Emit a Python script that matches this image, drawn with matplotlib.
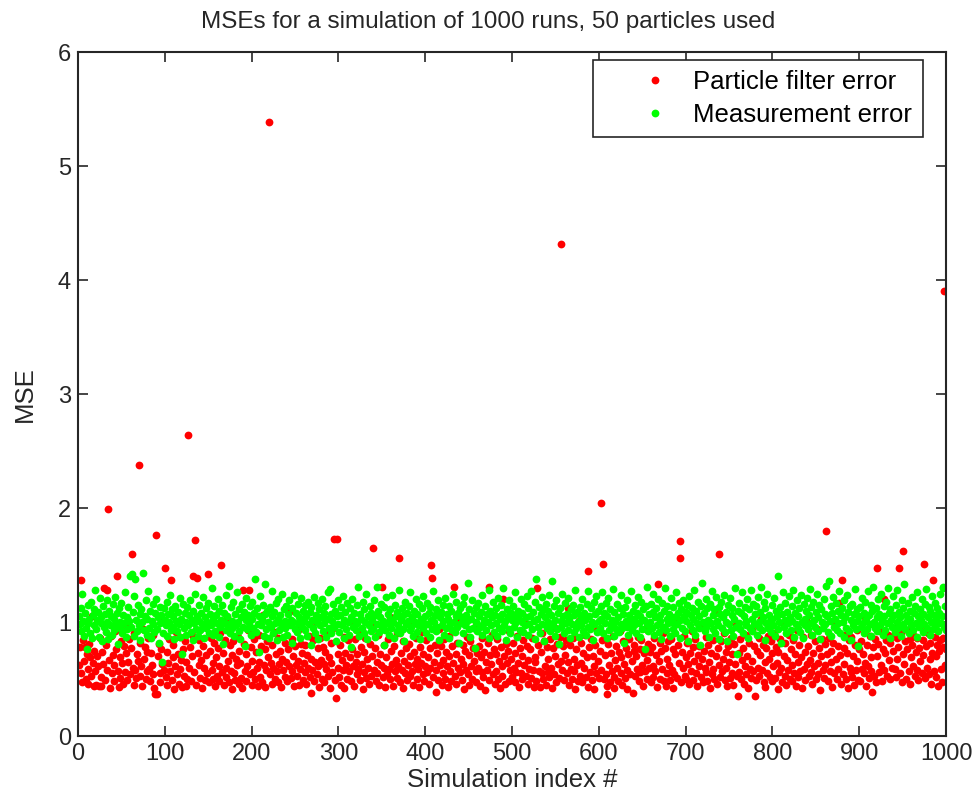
import numpy as np
from matplotlib import pyplot as plt

# MSE of the particle filter, one value per simulation run
pf_error = [
    0.62, 0.78, 1.37, 0.55, 0.47, 0.84, 0.66, 0.78, 0.50, 0.72, 0.59, 0.46, 0.81, 0.69, 0.53, 1.05, 0.64, 0.44, 0.75, 0.57,
    0.45, 0.70, 0.61, 0.44, 0.86, 0.52, 0.44, 0.74, 0.63, 1.30, 0.49, 0.80, 1.28, 0.58, 1.99, 0.67, 0.42, 0.88, 0.55, 0.71,
    0.48, 0.62, 0.92, 0.76, 1.40, 0.57, 0.43, 0.69, 0.51, 0.83, 0.64, 0.46, 0.79, 0.56, 0.73, 0.97, 0.49, 0.65, 0.85, 0.54,
    0.77, 1.60, 0.60, 0.45, 0.90, 0.58, 0.51, 0.72, 0.66, 2.38, 0.53, 0.82, 0.61, 0.44, 0.94, 0.68, 0.78, 0.50, 0.57, 0.74,
    0.86, 0.59, 0.48, 0.73, 0.62, 0.89, 0.54, 0.42, 0.37, 1.76, 0.37, 0.70, 0.81, 0.55, 0.47, 0.76, 0.63, 1.02, 0.58, 1.47,
    0.52, 0.74, 0.45, 0.64, 0.85, 0.57, 1.37, 0.49, 0.69, 0.80, 0.41, 0.61, 0.91, 0.54, 0.72, 0.46, 0.87, 0.59, 0.67, 0.43,
    0.76, 0.53, 0.83, 0.44, 0.65, 0.50, 2.64, 0.60, 0.78, 0.48, 0.70, 0.88, 1.40, 0.56, 1.72, 0.45, 1.39, 0.73, 0.62, 0.84,
    0.51, 0.67, 0.42, 0.79, 0.60, 0.49, 0.96, 0.71, 0.55, 1.42, 0.47, 0.75, 0.86, 0.58, 0.50, 0.64, 0.82, 0.44, 0.69, 0.53,
    0.77, 0.61, 0.48, 0.90, 1.50, 0.56, 0.73, 0.45, 0.84, 0.60, 0.52, 1.04, 0.66, 0.47, 0.80, 0.57, 0.71, 0.41, 0.83, 0.55,
    0.49, 0.68, 0.62, 0.87, 0.46, 0.75, 0.64, 0.51, 0.42, 1.28, 0.81, 0.57, 0.48, 0.72, 0.61, 0.93, 1.28, 0.54, 0.78, 0.45,
    0.66, 0.56, 0.85, 0.50, 0.74, 0.60, 0.44, 0.89, 0.65, 0.52, 0.79, 0.47, 1.06, 0.62, 0.76, 0.43, 0.58, 0.83, 0.69, 5.39,
    0.54, 0.64, 0.46, 0.80, 0.60, 0.91, 0.50, 0.72, 0.57, 0.47, 0.86, 0.63, 0.75, 0.43, 0.68, 0.58, 0.98, 0.52, 0.82, 0.65,
    0.48, 0.76, 0.61, 1.10, 0.51, 0.85, 0.57, 0.70, 0.44, 0.79, 0.62, 0.53, 0.93, 0.66, 0.45, 0.59, 0.81, 0.73, 0.49, 0.64,
    0.80, 0.56, 0.46, 0.71, 0.60, 0.88, 0.52, 0.38, 0.68, 0.58, 0.84, 0.48, 0.65, 1.00, 0.54, 0.77, 0.61, 0.43, 0.86, 0.67,
    0.50, 0.78, 0.63, 0.47, 0.74, 0.59, 0.90, 0.53, 0.69, 0.42, 0.82, 0.64, 0.56, 0.95, 1.73, 0.49, 0.33, 1.73, 0.72, 0.60,
    0.52, 0.80, 0.45, 0.67, 0.58, 0.87, 0.42, 0.73, 0.62, 0.50, 0.84, 0.57, 0.69, 1.01, 0.48, 0.76, 0.61, 0.44, 0.85, 0.65,
    0.54, 0.72, 0.59, 0.92, 0.49, 0.78, 0.63, 0.41, 0.74, 0.56, 0.86, 0.51, 0.68, 0.60, 0.46, 0.81, 0.97, 0.53, 0.70, 1.65,
    0.58, 0.77, 0.48, 0.65, 0.55, 0.89, 0.45, 0.72, 0.62, 1.31, 0.52, 0.80, 0.60, 0.43, 0.69, 0.54, 0.85, 0.59, 1.04, 0.50,
    0.75, 0.63, 0.44, 0.79, 0.57, 0.67, 0.51, 0.90, 0.61, 1.56, 0.47, 0.73, 0.58, 0.83, 0.42, 0.66, 0.55, 0.77, 0.49, 0.62,
    0.81, 0.53, 0.70, 0.98, 0.57, 0.45, 0.74, 0.63, 0.86, 0.50, 0.68, 0.59, 0.43, 0.78, 0.64, 0.91, 0.54, 0.72, 0.48, 0.61,
    0.84, 0.56, 0.69, 0.46, 0.77, 0.60, 1.50, 1.39, 0.52, 0.65, 0.80, 0.39, 0.58, 0.73, 0.49, 0.94, 0.62, 0.79, 0.45, 0.67,
    0.55, 0.85, 0.50, 0.74, 0.61, 0.43, 0.70, 0.88, 0.57, 0.48, 0.79, 0.64, 1.31, 0.53, 0.72, 0.46, 0.82, 0.60, 1.03, 0.56,
    0.68, 0.49, 0.80, 0.63, 0.41, 0.75, 0.58, 0.87, 0.54, 0.71, 0.45, 0.83, 0.61, 0.50, 0.77, 0.66, 0.96, 0.57, 0.47, 0.73,
    0.60, 0.79, 0.44, 0.69, 0.56, 0.86, 0.52, 0.74, 0.40, 0.65, 0.58, 0.82, 1.31, 0.49, 0.71, 0.63, 0.89, 0.54, 0.76, 0.46,
    0.72, 0.57, 0.85, 0.50, 0.66, 0.42, 0.78, 0.61, 0.53, 1.20, 0.70, 0.46, 0.81, 0.64, 0.75, 0.48, 0.92, 0.58, 0.68, 0.52,
    0.82, 0.60, 0.47, 0.73, 0.56, 0.88, 0.64, 0.43, 0.77, 0.55, 0.70, 0.50, 0.84, 0.62, 0.99, 0.53, 0.79, 0.46, 0.67, 0.59,
    0.76, 0.51, 0.86, 0.58, 0.43, 0.69, 0.65, 0.48, 1.30, 0.80, 0.57, 0.43, 0.74, 0.55, 0.90, 0.50, 0.83, 0.61, 0.45, 0.78,
    0.56, 0.68, 0.52, 0.85, 0.60, 0.42, 0.77, 0.54, 0.95, 0.70, 0.47, 0.81, 0.63, 0.51, 0.87, 0.66, 4.32, 0.58, 0.79, 0.49,
    0.71, 0.84, 0.55, 1.12, 0.65, 0.45, 0.80, 0.59, 0.50, 0.86, 0.68, 0.57, 0.41, 0.76, 0.62, 0.48, 1.01, 0.53, 0.82, 0.64,
    0.47, 0.73, 0.60, 0.89, 0.52, 0.69, 0.43, 1.45, 0.78, 0.56, 0.85, 0.49, 0.70, 0.61, 0.41, 0.80, 0.55, 0.93, 0.66, 0.51,
    0.75, 0.58, 2.04, 0.84, 1.51, 0.50, 0.71, 0.54, 0.44, 0.37, 0.81, 0.62, 0.47, 0.73, 0.57, 0.88, 0.52, 0.42, 0.67, 0.79,
    0.60, 0.48, 0.74, 0.92, 0.55, 0.69, 0.45, 0.83, 0.63, 0.51, 0.77, 0.58, 0.41, 0.72, 0.85, 0.54, 0.98, 0.66, 0.38, 0.75,
    0.80, 0.53, 0.70, 0.59, 0.87, 0.48, 0.76, 0.56, 0.84, 0.62, 0.44, 0.73, 0.57, 0.94, 0.67, 0.50, 0.81, 0.60, 0.74, 0.47,
    0.78, 0.61, 0.52, 0.86, 0.57, 0.71, 0.43, 1.33, 0.66, 0.82, 0.50, 0.75, 0.59, 0.90, 0.48, 0.77, 0.44, 0.68, 0.55, 0.83,
    0.62, 0.49, 0.85, 0.58, 0.42, 0.76, 0.54, 0.72, 1.02, 0.51, 0.80, 0.64, 1.71, 1.56, 0.47, 0.74, 0.60, 0.88, 0.53, 0.69,
    0.50, 0.82, 0.63, 0.46, 0.73, 0.57, 0.92, 0.78, 0.49, 0.66, 0.85, 0.55, 0.44, 0.71, 0.61, 0.79, 0.96, 0.52, 0.68, 0.47,
    0.75, 0.60, 0.87, 0.56, 0.48, 0.80, 0.65, 0.42, 0.73, 0.54, 0.84, 0.59, 0.50, 1.08, 0.70, 0.46, 0.77, 1.60, 0.62, 0.52,
    0.83, 0.57, 0.68, 0.90, 0.49, 0.74, 0.60, 0.44, 0.79, 0.65, 0.51, 0.86, 0.55, 0.72, 0.45, 0.81, 0.63, 0.97, 0.53, 0.35,
    0.73, 0.56, 0.85, 0.50, 0.67, 0.77, 0.46, 0.61, 0.89, 0.54, 0.70, 0.42, 0.82, 0.59, 0.51, 0.93, 0.66, 0.57, 0.79, 0.35,
    0.49, 0.75, 0.60, 0.86, 0.53, 0.71, 1.03, 0.58, 0.80, 0.47, 0.65, 0.43, 0.77, 0.55, 0.88, 0.68, 0.52, 0.83, 0.48, 0.73,
    0.61, 0.90, 0.51, 0.78, 0.64, 0.41, 0.74, 0.56, 0.85, 0.60, 0.47, 0.99, 0.70, 0.53, 0.82, 0.45, 0.67, 0.58, 0.89, 0.50,
    0.76, 0.62, 0.48, 0.84, 0.55, 0.72, 0.44, 0.93, 0.65, 0.52, 0.80, 0.57, 0.69, 0.42, 0.87, 0.59, 0.74, 0.49, 1.03, 0.63,
    0.79, 0.53, 0.67, 0.89, 0.56, 0.46, 0.73, 0.61, 0.83, 0.50, 0.94, 0.64, 0.54, 0.77, 0.40, 0.70, 0.85, 0.58, 0.51, 0.81,
    0.62, 1.80, 0.72, 0.48, 0.86, 0.57, 0.75, 0.65, 0.43, 0.82, 0.55, 0.98, 0.68, 0.50, 0.79, 0.59, 1.17, 0.71, 0.46, 1.37,
    0.54, 0.77, 0.63, 0.89, 0.50, 0.73, 0.42, 0.84, 0.60, 0.56, 0.87, 0.52, 0.70, 0.45, 0.80, 0.58, 0.93, 0.66, 0.49, 0.76,
    0.48, 0.83, 0.59, 0.72, 0.55, 1.05, 0.64, 0.44, 0.80, 0.61, 0.51, 0.88, 0.69, 0.57, 0.39, 0.78, 0.53, 0.85, 0.47, 1.47,
    0.70, 0.81, 0.56, 0.92, 0.62, 0.48, 0.76, 0.58, 1.20, 0.73, 0.84, 0.53, 0.89, 0.67, 0.50, 0.82, 0.87, 0.60, 0.75, 0.95,
    0.59, 0.52, 0.86, 0.68, 0.78, 1.47, 0.55, 0.90, 0.47, 1.62, 0.72, 0.63, 0.83, 0.50, 0.76, 0.93, 0.57, 0.85, 0.46, 0.69,
    0.80, 0.61, 0.88, 0.53, 0.74, 0.58, 0.86, 0.49, 0.77, 0.66, 0.97, 0.55, 0.71, 0.84, 1.51, 0.51, 0.79, 0.60, 0.90, 0.54,
    0.68, 0.82, 0.46, 0.73, 1.37, 0.57, 0.87, 0.52, 0.70, 0.80, 0.44, 0.75, 0.84, 0.59, 0.47, 0.78, 0.86, 3.90, 0.62, 0.76,
]

# MSE of the raw measurements, one value per simulation run
meas_error = [
    1.05, 0.98, 1.12, 0.92, 1.25, 1.01, 0.88, 1.08, 0.95, 0.76, 1.15, 0.99, 1.03, 0.90, 1.18, 0.86, 1.06, 0.97, 1.11, 1.28,
    0.94, 1.02, 1.09, 0.87, 1.21, 0.99, 1.04, 0.83, 1.14, 0.96, 1.07, 0.91, 1.00, 1.19, 0.85, 1.10, 0.97, 1.05, 0.89, 1.16,
    1.03, 0.93, 1.22, 0.98, 1.08, 0.81, 1.12, 1.00, 0.95, 1.17, 0.90, 1.06, 0.99, 1.26, 0.87, 1.04, 0.94, 1.13, 1.01, 1.40,
    0.96, 1.42, 1.09, 0.88, 1.23, 1.38, 1.02, 0.92, 1.15, 0.97, 1.07, 0.84, 1.11, 1.00, 1.43, 0.93, 1.05, 1.19, 0.89, 1.03,
    1.27, 0.95, 1.10, 0.86, 1.01, 1.16, 0.98, 0.91, 1.08, 1.20, 0.94, 1.04, 0.82, 1.13, 0.99, 1.06, 0.65, 0.90, 1.12, 1.02,
    0.97, 1.18, 0.88, 1.07, 1.00, 1.24, 0.93, 1.11, 0.96, 1.05, 0.85, 1.14, 1.01, 0.92, 1.09, 0.98, 1.21, 0.87, 1.03, 0.72,
    1.16, 0.95, 1.08, 1.00, 0.89, 1.13, 0.97, 1.06, 1.19, 0.91, 1.02, 0.84, 1.10, 0.99, 1.25, 0.94, 1.05, 0.88, 1.15, 1.01,
    0.93, 1.08, 0.98, 1.22, 0.86, 1.04, 1.12, 0.95, 1.00, 1.17, 0.90, 1.07, 0.97, 1.30, 0.89, 1.03, 1.14, 0.92, 1.06, 0.99,
    1.20, 0.87, 1.10, 0.96, 1.02, 1.15, 0.81, 1.08, 0.99, 1.24, 0.93, 1.05, 0.98, 1.32, 0.90, 1.13, 1.01, 0.95, 1.18, 0.88,
    1.07, 0.97, 1.26, 1.00, 0.92, 1.11, 0.85, 1.04, 1.16, 0.96, 1.09, 0.79, 1.02, 1.21, 0.94, 1.06, 0.99, 1.14, 0.89, 1.03,
    1.18, 0.95, 1.08, 1.38, 0.91, 1.12, 0.98, 1.05, 0.74, 1.23, 0.97, 1.02, 1.15, 0.88, 1.07, 1.33, 0.94, 1.10, 1.00, 0.86,
    1.13, 0.96, 1.05, 1.27, 0.90, 1.09, 0.99, 1.17, 0.84, 1.03, 1.20, 0.93, 1.06, 0.98, 1.25, 0.87, 1.11, 1.01, 0.95, 1.14,
    0.89, 1.07, 1.19, 0.97, 1.02, 0.82, 1.12, 1.00, 1.24, 0.94, 1.08, 0.91, 1.16, 0.99, 1.04, 0.86, 1.21, 0.96, 1.10, 1.01,
    0.93, 1.15, 1.05, 0.88, 1.18, 0.98, 1.09, 0.80, 1.13, 1.02, 0.95, 1.22, 0.90, 1.06, 1.00, 1.17, 0.85, 1.11, 0.97, 1.04,
    1.20, 0.92, 1.08, 0.99, 1.14, 0.87, 1.03, 1.26, 0.95, 1.29, 1.07, 0.90, 1.01, 1.16, 0.96, 1.10, 0.83, 1.05, 0.98, 1.19,
    0.91, 1.06, 1.13, 0.97, 1.23, 0.86, 1.02, 1.09, 0.94, 1.17, 1.00, 0.89, 1.12, 1.04, 0.78, 1.20, 0.96, 1.08, 1.01, 0.93,
    1.15, 0.99, 1.31, 0.88, 1.07, 1.03, 0.95, 1.18, 0.90, 1.11, 1.00, 1.25, 0.85, 1.05, 0.97, 1.14, 0.92, 1.08, 1.02, 0.94,
    1.19, 0.87, 1.06, 1.31, 0.98, 1.10, 0.91, 1.04, 1.16, 0.96, 1.01, 0.80, 1.13, 0.93, 1.22, 0.99, 1.07, 0.89, 1.11, 1.03,
    0.95, 1.24, 1.00, 0.86, 1.15, 1.05, 0.92, 1.09, 0.97, 1.28, 0.90, 1.02, 1.12, 0.94, 1.06, 0.83, 1.18, 0.98, 1.08, 1.01,
    1.14, 0.93, 1.26, 0.96, 1.04, 0.88, 1.10, 1.00, 1.20, 0.91, 1.07, 0.97, 1.16, 0.85, 1.03, 1.12, 0.95, 1.23, 0.99, 1.05,
    0.90, 1.17, 0.98, 1.08, 0.87, 1.13, 1.02, 0.94, 1.27, 1.00, 1.06, 0.92, 1.11, 0.96, 1.19, 0.84, 1.04, 1.09, 0.97, 1.15,
    1.01, 0.89, 1.21, 0.95, 1.07, 1.03, 0.86, 1.14, 0.98, 1.10, 0.93, 1.25, 1.00, 0.91, 1.05, 1.18, 0.96, 1.08, 0.82, 1.12,
    0.99, 1.04, 1.16, 0.90, 1.22, 0.97, 1.06, 1.01, 1.34, 0.94, 1.11, 0.87, 1.03, 1.19, 0.95, 1.08, 0.77, 1.13, 1.00, 0.92,
    1.17, 1.05, 0.96, 1.09, 0.89, 1.24, 0.98, 1.02, 1.14, 0.93, 1.07, 1.00, 1.28, 0.86, 1.10, 0.97, 1.04, 1.18, 0.91, 1.06,
    0.99, 1.12, 0.88, 1.21, 0.95, 1.03, 1.15, 0.92, 1.07, 1.30, 0.97, 1.01, 0.84, 1.11, 1.05, 0.94, 1.19, 0.90, 1.08, 1.02,
    1.14, 0.96, 1.26, 0.99, 1.06, 0.87, 1.10, 1.03, 0.93, 1.20, 1.00, 1.08, 0.91, 1.16, 0.97, 1.04, 1.23, 0.89, 1.12, 0.98,
    1.05, 1.27, 0.94, 1.09, 1.01, 0.85, 1.18, 1.38, 1.03, 0.96, 1.13, 0.90, 1.07, 1.22, 0.98, 1.11, 0.83, 1.04, 1.16, 0.95,
    1.10, 1.00, 1.24, 0.92, 1.06, 1.36, 0.97, 1.14, 0.88, 1.02, 1.19, 0.94, 1.08, 0.81, 1.12, 1.01, 0.96, 1.25, 1.05, 0.90,
    1.17, 0.99, 1.07, 0.93, 1.21, 1.03, 0.86, 1.11, 0.98, 1.15, 0.91, 1.06, 1.28, 0.95, 1.09, 1.00, 0.87, 1.13, 0.97, 1.04,
    1.20, 0.92, 1.08, 1.02, 0.89, 1.16, 0.96, 1.27, 1.05, 0.94, 1.12, 1.00, 0.84, 1.18, 0.98, 1.07, 1.23, 0.91, 1.10, 1.01,
    0.95, 1.14, 1.03, 1.26, 0.90, 1.08, 0.99, 1.17, 0.86, 1.05, 1.21, 0.93, 1.11, 0.97, 1.02, 1.29, 0.88, 1.09, 1.00, 0.94,
    1.16, 1.04, 0.91, 1.12, 0.98, 1.24, 0.95, 1.07, 0.82, 1.13, 1.01, 0.96, 1.19, 0.89, 1.06, 1.00, 1.27, 0.93, 1.10, 1.03,
    0.97, 1.15, 0.90, 1.08, 1.22, 0.99, 1.05, 0.87, 1.18, 0.94, 1.11, 1.02, 0.76, 1.14, 0.98, 1.31, 0.92, 1.07, 1.00, 1.16,
    0.95, 1.09, 1.25, 0.89, 1.04, 1.12, 0.97, 1.20, 0.91, 1.06, 1.01, 0.85, 1.17, 0.96, 1.10, 1.30, 0.93, 1.03, 1.14, 0.99,
    1.07, 0.88, 1.21, 1.00, 0.94, 1.13, 1.04, 0.90, 1.26, 0.98, 1.08, 1.17, 0.86, 1.02, 1.11, 0.95, 1.19, 1.05, 0.92, 1.09,
    1.01, 1.15, 0.83, 1.23, 0.97, 1.06, 1.12, 0.93, 1.03, 1.28, 0.89, 1.10, 0.99, 1.18, 0.95, 1.05, 0.80, 1.14, 1.34, 1.00,
    1.08, 0.92, 1.20, 0.96, 1.12, 1.02, 0.87, 1.16, 0.99, 1.27, 0.94, 1.06, 1.11, 0.90, 1.22, 1.01, 0.97, 1.13, 0.85, 1.07,
    1.18, 0.95, 1.04, 1.24, 0.91, 1.09, 1.00, 0.83, 1.15, 0.98, 1.21, 0.93, 1.06, 1.12, 0.88, 1.03, 1.30, 0.96, 0.72, 1.10,
    0.99, 1.17, 0.94, 1.08, 1.26, 0.90, 1.05, 1.13, 0.97, 1.01, 1.20, 0.86, 1.11, 0.95, 1.28, 1.03, 0.92, 1.16, 0.98, 1.07,
    1.14, 0.89, 1.22, 1.00, 0.96, 1.09, 1.31, 0.93, 1.04, 1.18, 0.84, 1.12, 0.99, 1.25, 0.95, 1.06, 1.01, 0.91, 1.15, 1.03,
    0.97, 1.21, 0.88, 1.10, 1.05, 0.94, 1.40, 1.00, 1.13, 0.82, 1.07, 1.26, 0.96, 1.02, 1.17, 0.90, 1.09, 0.99, 1.23, 1.04,
    0.93, 1.14, 1.01, 1.28, 0.87, 1.08, 0.98, 1.19, 0.95, 1.05, 1.12, 0.91, 1.24, 1.00, 0.86, 1.16, 1.03, 0.97, 1.10, 1.21,
    0.94, 1.06, 1.29, 0.99, 1.13, 0.89, 1.18, 1.02, 0.96, 1.09, 1.25, 0.92, 1.04, 1.15, 0.85, 1.11, 1.00, 0.95, 1.20, 1.07,
    0.98, 1.32, 1.05, 0.91, 1.36, 1.01, 1.14, 0.88, 1.08, 1.22, 0.96, 1.03, 1.17, 0.93, 1.10, 0.99, 1.27, 0.90, 1.06, 1.12,
    1.00, 0.87, 1.19, 1.04, 0.95, 1.24, 1.09, 0.92, 1.14, 1.02, 0.84, 1.16, 0.97, 1.07, 1.29, 0.94, 1.11, 1.01, 0.79, 1.05,
    1.13, 0.96, 1.21, 0.99, 1.08, 0.90, 1.18, 1.03, 0.94, 1.27, 1.06, 0.98, 1.15, 0.88, 1.10, 1.31, 1.00, 0.95, 1.12, 1.04,
    0.92, 1.20, 1.07, 0.97, 1.25, 1.01, 0.89, 1.14, 1.05, 0.93, 1.18, 0.99, 1.30, 1.08, 0.86, 1.11, 1.02, 0.96, 1.23, 1.06,
    0.91, 1.15, 1.00, 1.28, 0.95, 1.09, 1.04, 0.88, 1.19, 0.98, 1.12, 1.33, 0.94, 1.06, 1.01, 1.17, 0.90, 1.10, 1.03, 0.97,
    1.22, 0.93, 1.08, 1.14, 0.99, 0.87, 1.26, 1.05, 0.96, 1.11, 1.02, 1.20, 0.91, 1.07, 0.98, 1.16, 1.29, 0.95, 1.04, 1.13,
    0.89, 1.10, 1.00, 1.23, 0.94, 1.06, 1.17, 0.97, 1.03, 1.12, 0.92, 1.08, 1.25, 0.99, 1.05, 1.30, 1.31, 0.96, 1.14, 0.93,
]

title = "MSEs for a simulation of 1000 runs, 50 particles used"
xticks = [0, 100, 200, 300, 400, 500, 600, 700, 800, 900, 1000]
yticks = [0, 1, 2, 3, 4, 5, 6]

assert len(pf_error) == 1000 and len(meas_error) == 1000, (len(pf_error), len(meas_error))

plt.rcParams['font.family'] = ['Liberation Sans', 'DejaVu Sans']
ink = '#262626'

fig = plt.figure(figsize=(9.77, 8.09), dpi=100)
ax = fig.add_axes([0.0798, 0.0902, 0.8885, 0.8455])

ax.plot(np.arange(1, len(pf_error) + 1), pf_error, 'o', color='#ff0000', ms=5.6, mew=0,
        label='Particle filter error')
ax.plot(np.arange(1, len(meas_error) + 1), meas_error, 'o', color='#00ff00', ms=5.6, mew=0,
        label='Measurement error')

ax.set_xlim(0, 1000)
ax.set_ylim(0, 6)
ax.set_xticks(xticks)
ax.set_yticks(yticks)
ax.tick_params(direction='in', length=7, width=1.2, top=True, right=True,
               labelsize=17, colors=ink, pad=5)
for s in ax.spines.values():
    s.set_linewidth(1.5)
    s.set_color(ink)

# the title sits centred on the whole figure, not on the axes
fig.text(0.5, 1 - 22 / 809, title, fontsize=17.5, color=ink, ha='center', va='center')
ax.set_xlabel("Simulation index #", fontsize=18.5, color=ink, labelpad=2)
ax.set_ylabel("MSE", fontsize=18.5, color=ink, labelpad=15)

leg = ax.legend(loc='upper left', bbox_to_anchor=(0.5933, 0.9883), borderaxespad=0,
                fontsize=18.5, fancybox=False, framealpha=1, edgecolor=ink,
                handlelength=4.05, handletextpad=-0.54, borderpad=0.4, labelspacing=0.33)
leg.get_frame().set_linewidth(1.2)

plt.savefig('out.png', dpi=100)
